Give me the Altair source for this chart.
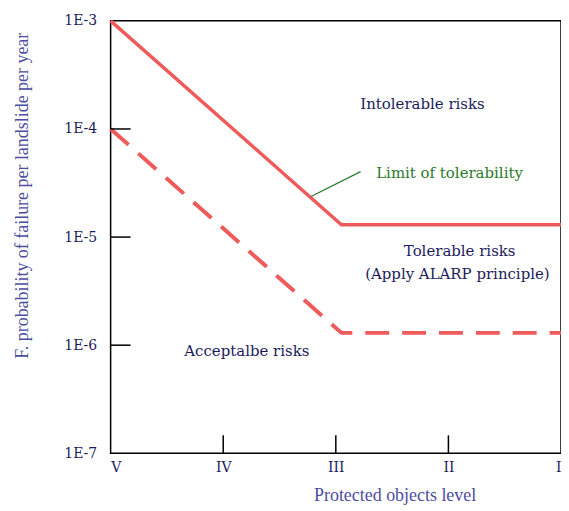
import altair as alt
import pandas as pd

# ---- data ----
levels = ["V", "IV", "III", "II", "I"]
level_pos = [0, 1, 2, 3, 4]
y_ticks = [1e-7, 1e-6, 1e-5, 1e-4, 1e-3]

limit_x = [0, 2.05, 4]
limit_y = [1e-3, 1.3e-5, 1.3e-5]
accept_x = [0, 2.05, 4]
accept_y = [1e-4, 1.3e-6, 1.3e-6]

inner_y_ticks = [1e-4, 1e-5, 1e-6]
inner_x_ticks = [1, 2, 3]

labels_text = ["Intolerable risks", "Tolerable risks", "(Apply ALARP principle)", "Acceptalbe risks"]
labels_x = [2.77, 3.10, 3.08, 1.21]
labels_y = [1.71e-4, 7.5e-6, 4.6e-6, 8.75e-7]

limit_label = ["Limit of tolerability"]
limit_label_x = [3.01]
limit_label_y = [3.94e-5]
pointer_x = [1.78, 2.22]
pointer_y = [2.37e-5, 4.03e-5]

FONT = "DejaVu Serif"
TFONT = "Liberation Serif"
NAVY = "#1c1c5c"
TITLE_C = "#4d4da0"
RED = "#ef5b5b"
GREEN = "#2a7a2a"

W, H = 452, 434

xscale = alt.Scale(domain=[0, 4], nice=False, zero=False)
yscale = alt.Scale(type="log", domain=[1e-7, 1e-3], nice=False)

label_expr = "[" + ",".join("'%s'" % s for s in levels) + "][datum.value]"

xaxis = alt.Axis(
    values=level_pos, labelExpr=label_expr, title="Protected objects level",
    grid=False, ticks=False, domain=False, labelFont=FONT, labelFontSize=14,
    labelColor=NAVY, labelPadding=7, titleFont=TFONT, titleFontSize=18,
    titleFontWeight="normal", titleColor=TITLE_C, titleX=285, titleY=42,
    titleBaseline="middle", titleAlign="center",
)
yaxis = alt.Axis(
    values=y_ticks, labelExpr="'1E' + round(log(datum.value)/LN10)",
    title="F. probability of failure per landslide per year",
    grid=False, ticks=False, domain=False, labelFont=FONT, labelFontSize=14,
    labelColor=NAVY, labelPadding=14, titleFont=TFONT, titleFontSize=18,
    titleFontWeight="normal", titleColor=TITLE_C, titleX=-88, titleY=175,
    titleAngle=270, titleBaseline="middle", titleAlign="center",
)

limit_df = pd.DataFrame({"x": limit_x, "y": limit_y})
accept_df = pd.DataFrame({"x": accept_x, "y": accept_y})

limit_line = alt.Chart(limit_df).mark_line(color=RED, strokeWidth=3.5).encode(
    x=alt.X("x:Q", scale=xscale, axis=xaxis),
    y=alt.Y("y:Q", scale=yscale, axis=yaxis),
)
accept_line = alt.Chart(accept_df).mark_line(
    color=RED, strokeWidth=4, strokeDash=[24, 13]
).encode(x=alt.X("x:Q", scale=xscale), y=alt.Y("y:Q", scale=yscale))

ytick_rules = alt.Chart(pd.DataFrame({"y": inner_y_ticks})).mark_rule(
    color="black", strokeWidth=1.5
).encode(y=alt.Y("y:Q", scale=yscale), x=alt.value(0), x2=alt.value(20))

xtick_rules = alt.Chart(pd.DataFrame({"x": inner_x_ticks})).mark_rule(
    color="black", strokeWidth=1.5
).encode(x=alt.X("x:Q", scale=xscale), y=alt.value(H), y2=alt.value(H - 18))

texts = alt.Chart(pd.DataFrame({"t": labels_text, "x": labels_x, "y": labels_y})).mark_text(
    font=FONT, fontSize=15, color=NAVY, align="center", baseline="middle"
).encode(x=alt.X("x:Q", scale=xscale), y=alt.Y("y:Q", scale=yscale), text="t:N")

limit_text = alt.Chart(pd.DataFrame({"t": limit_label, "x": limit_label_x, "y": limit_label_y})).mark_text(
    font=FONT, fontSize=15, color=GREEN, align="center", baseline="middle"
).encode(x=alt.X("x:Q", scale=xscale), y=alt.Y("y:Q", scale=yscale), text="t:N")

pointer = alt.Chart(pd.DataFrame({"x": pointer_x, "y": pointer_y})).mark_line(
    color=GREEN, strokeWidth=1.2
).encode(x=alt.X("x:Q", scale=xscale), y=alt.Y("y:Q", scale=yscale))

chart = alt.layer(
    limit_line, accept_line, ytick_rules, xtick_rules, pointer, texts, limit_text
).properties(
    width=W, height=H,
    background="white",
    autosize=alt.AutoSizeParams(type="none"),
    padding={"left": 103, "top": 12, "right": 0, "bottom": 57},
).configure_view(stroke="black", strokeWidth=1.5)

chart.save("out.html", embed_options={"renderer": "svg", "actions": False})
